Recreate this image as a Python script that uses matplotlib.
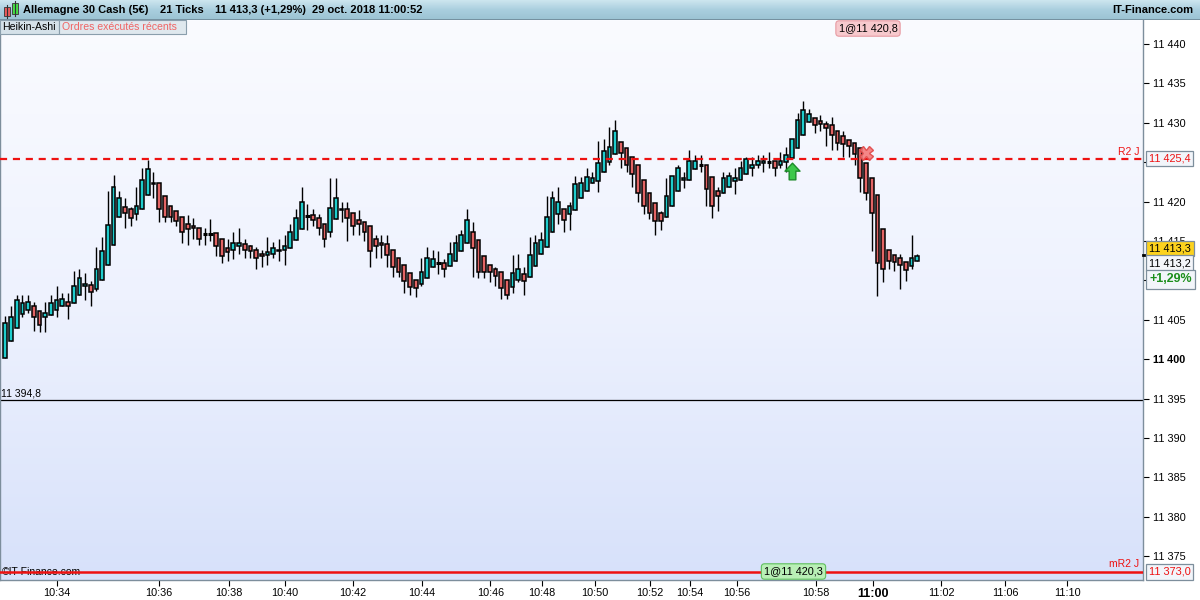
import matplotlib
matplotlib.use("Agg")
import matplotlib.pyplot as plt
import numpy as np
from matplotlib.patches import Rectangle
from matplotlib.path import Path
from matplotlib.colors import LinearSegmentedColormap

plt.rcParams['font.family'] = ['Liberation Sans', 'DejaVu Sans']

# ---------------- data (Heikin-Ashi candles, 21 ticks) ----------------
opens = [11400.1, 11402.3, 11403.9, 11405.7, 11406.3, 11406.7, 11406.1, 11405.3, 11405.6, 11406.3,
         11406.8, 11407.3, 11407.1, 11408.1, 11409.3, 11409.4, 11408.9, 11410.1, 11411.9, 11414.5,
         11418.1, 11419.3, 11419.0, 11418.4, 11419.0, 11420.8, 11422.4, 11422.3, 11420.7, 11419.4,
         11418.8, 11418.1, 11417.2, 11416.9, 11416.7, 11415.9, 11415.9, 11416.0, 11415.2, 11414.1,
         11413.8, 11414.3, 11414.6, 11414.3, 11413.9, 11413.4, 11413.2, 11413.4, 11413.7, 11413.8,
         11414.1, 11415.1, 11416.5, 11418.2, 11418.3, 11417.9, 11417.2, 11416.2, 11417.8, 11419.1,
         11419.0, 11418.5, 11417.6, 11417.4, 11416.9, 11415.2, 11414.7, 11414.6, 11413.9, 11412.8,
         11411.9, 11410.9, 11410.0, 11409.5, 11410.3, 11411.7, 11412.2, 11412.2, 11411.8, 11412.5,
         11413.7, 11414.8, 11416.2, 11415.1, 11413.1, 11412.0, 11411.5, 11411.0, 11410.0, 11409.1,
         11410.0, 11410.8, 11410.4, 11411.8, 11413.3, 11414.2, 11416.1, 11418.4, 11419.1, 11418.4,
         11418.9, 11420.5, 11421.4, 11422.3, 11422.6, 11423.7, 11425.0, 11426.0, 11427.5, 11426.8,
         11425.7, 11424.6, 11422.8, 11421.1, 11419.8, 11418.6, 11418.1, 11419.4, 11421.3, 11422.7,
         11422.8, 11424.1, 11424.6, 11424.6, 11423.1, 11421.3, 11421.1, 11421.9, 11422.6, 11422.8,
         11423.5, 11424.3, 11424.6, 11424.9, 11425.0, 11425.1, 11424.7, 11425.0, 11425.5, 11426.8,
         11428.5, 11430.1, 11430.6, 11430.2, 11429.9, 11429.7, 11429.0, 11428.3, 11427.8, 11427.4,
         11426.8, 11424.9, 11423.0, 11420.8, 11416.5, 11413.9, 11413.2, 11412.8, 11412.3, 11411.8,
         11412.4]
highs = [11405.5, 11406.7, 11408.1, 11408.1, 11408.1, 11407.2, 11406.1, 11407.2, 11408.1, 11409.3,
         11408.4, 11408.4, 11411.2, 11411.4, 11410.9, 11409.9, 11414.2, 11415.5, 11421.4, 11423.4,
         11421.4, 11420.4, 11419.3, 11421.9, 11424.3, 11425.3, 11423.8, 11422.3, 11420.7, 11419.4,
         11418.8, 11418.1, 11418.3, 11417.9, 11416.7, 11416.7, 11417.8, 11416.0, 11415.2, 11415.2,
         11416.2, 11416.7, 11415.2, 11414.5, 11414.2, 11413.9, 11415.5, 11414.9, 11415.2, 11415.7,
         11417.2, 11419.1, 11421.9, 11419.7, 11419.1, 11418.4, 11417.2, 11423.0, 11423.0, 11419.9,
         11419.9, 11418.5, 11418.9, 11417.4, 11416.9, 11415.8, 11415.8, 11415.7, 11413.9, 11412.8,
         11411.9, 11410.9, 11410.0, 11412.9, 11414.2, 11413.9, 11413.7, 11412.7, 11414.9, 11415.8,
         11416.4, 11419.1, 11417.4, 11415.1, 11413.1, 11412.0, 11411.7, 11411.0, 11410.0, 11413.2,
         11413.4, 11411.7, 11415.5, 11415.8, 11416.1, 11420.7, 11421.4, 11421.9, 11419.1, 11419.9,
         11423.2, 11423.1, 11424.2, 11423.8, 11427.7, 11428.0, 11429.4, 11430.4, 11427.5, 11426.8,
         11425.7, 11424.6, 11422.8, 11421.1, 11419.8, 11418.8, 11423.0, 11423.3, 11424.7, 11423.7,
         11426.6, 11425.9, 11425.9, 11424.6, 11423.1, 11421.9, 11423.8, 11423.8, 11424.2, 11425.2,
         11425.7, 11425.7, 11425.9, 11425.9, 11426.3, 11425.1, 11426.3, 11426.9, 11428.0, 11431.3,
         11432.7, 11431.7, 11430.6, 11431.0, 11430.2, 11430.7, 11429.0, 11428.9, 11427.8, 11427.4,
         11426.8, 11424.9, 11423.0, 11420.8, 11416.5, 11413.9, 11413.2, 11413.4, 11412.3, 11415.8,
         11413.4]
lows = [11400.1, 11402.3, 11403.9, 11405.4, 11405.9, 11403.6, 11403.4, 11403.4, 11405.6, 11405.4,
        11406.8, 11405.1, 11407.1, 11408.1, 11407.5, 11406.7, 11408.7, 11410.1, 11411.9, 11414.5,
        11418.1, 11416.7, 11416.9, 11417.6, 11419.0, 11420.8, 11420.4, 11417.4, 11417.4, 11417.4,
        11416.9, 11414.7, 11414.5, 11415.2, 11414.5, 11414.5, 11415.0, 11413.1, 11412.2, 11412.4,
        11412.7, 11413.4, 11412.9, 11412.9, 11411.4, 11411.7, 11411.9, 11412.9, 11412.4, 11411.9,
        11414.1, 11415.1, 11416.5, 11416.4, 11416.9, 11415.7, 11414.2, 11415.5, 11417.8, 11417.4,
        11415.0, 11415.7, 11415.8, 11415.0, 11411.7, 11412.9, 11412.9, 11411.7, 11410.4, 11410.4,
        11408.4, 11408.2, 11407.9, 11409.3, 11410.3, 11411.7, 11410.8, 11410.4, 11411.8, 11412.5,
        11413.7, 11414.8, 11410.4, 11410.3, 11410.3, 11409.8, 11409.3, 11407.7, 11407.7, 11408.4,
        11409.8, 11408.2, 11410.4, 11411.8, 11413.3, 11414.2, 11416.1, 11417.2, 11416.2, 11416.4,
        11418.9, 11420.5, 11421.4, 11422.3, 11421.2, 11423.7, 11424.7, 11426.0, 11424.2, 11423.7,
        11421.9, 11419.9, 11418.4, 11417.8, 11415.8, 11416.4, 11418.1, 11419.4, 11421.3, 11421.7,
        11422.8, 11424.1, 11423.8, 11419.4, 11417.9, 11418.8, 11421.1, 11421.9, 11420.9, 11422.8,
        11423.5, 11423.3, 11424.3, 11423.8, 11424.3, 11423.3, 11424.2, 11423.8, 11425.5, 11426.8,
        11428.5, 11430.1, 11428.7, 11428.9, 11427.1, 11426.6, 11426.6, 11425.7, 11425.7, 11424.7,
        11421.2, 11420.2, 11413.7, 11408.0, 11409.8, 11411.4, 11411.2, 11408.9, 11409.9, 11411.5,
        11412.4]
closes = [11404.6, 11405.4, 11407.5, 11407.1, 11407.2, 11405.4, 11404.4, 11405.8, 11407.1, 11407.5,
          11407.7, 11406.8, 11409.3, 11410.3, 11409.5, 11408.5, 11411.4, 11413.7, 11417.0, 11421.8,
          11420.4, 11418.6, 11417.9, 11419.5, 11422.7, 11424.1, 11422.2, 11419.0, 11418.1, 11418.1,
          11417.5, 11416.2, 11416.5, 11416.6, 11415.2, 11415.9, 11415.9, 11414.3, 11413.1, 11413.6,
          11414.8, 11414.7, 11413.9, 11413.7, 11412.9, 11413.1, 11413.6, 11414.1, 11413.9, 11414.3,
          11416.1, 11417.9, 11420.0, 11418.2, 11417.6, 11416.7, 11415.2, 11419.2, 11420.5, 11418.9,
          11417.9, 11416.9, 11417.1, 11416.2, 11413.7, 11414.3, 11414.5, 11413.2, 11411.7, 11411.0,
          11409.9, 11409.1, 11409.0, 11411.0, 11412.9, 11412.7, 11412.2, 11411.4, 11413.4, 11414.7,
          11415.8, 11417.6, 11414.1, 11411.0, 11411.0, 11411.0, 11410.6, 11409.0, 11408.2, 11410.9,
          11411.5, 11409.9, 11413.2, 11414.7, 11415.1, 11418.1, 11420.5, 11419.9, 11417.6, 11419.4,
          11422.2, 11422.4, 11423.1, 11423.0, 11424.9, 11426.4, 11426.9, 11428.9, 11426.1, 11424.6,
          11423.5, 11421.1, 11419.4, 11418.6, 11417.5, 11417.5, 11420.7, 11423.3, 11424.2, 11423.0,
          11425.2, 11425.1, 11424.6, 11421.6, 11419.4, 11420.7, 11423.0, 11423.2, 11423.0, 11424.2,
          11425.4, 11424.7, 11425.1, 11425.1, 11425.0, 11424.2, 11425.2, 11425.9, 11428.0, 11430.4,
          11431.6, 11431.1, 11429.7, 11429.8, 11429.3, 11428.5, 11427.4, 11427.3, 11427.1, 11426.0,
          11423.0, 11421.1, 11418.6, 11412.2, 11411.4, 11412.4, 11412.3, 11411.9, 11411.3, 11412.9,
          11413.1]

time_labels = ["10:34", "10:36", "10:38", "10:40", "10:42", "10:44", "10:46", "10:48", "10:50",
               "10:52", "10:54", "10:56", "10:58", "11:00", "11:02", "11:06", "11:10"]
time_label_pos = [9.1, 26.96, 39.16, 49.07, 61.0, 73.1, 85.1, 94.2, 103.5,
                  113.1, 120.1, 128.4, 142.2, 152.2, 164.2, 175.4, 186.3]
price_ticks = [11375, 11380, 11385, 11390, 11395, 11400, 11405, 11410, 11415,
               11420, 11425, 11430, 11435, 11440]
hidden_price_labels = [11410, 11425]   # covered by the value boxes in the original

r2_level = 11425.4
mr2_level = 11373.0
session_level = 11394.8
last_price = 11413.3
prev_price = 11413.2
change_text = "+1,29%"
buy_text = "1@11 420,3"
sell_text = "1@11 420,8"
buy_signal = (138, 11423.9)
sell_signal = (151, 11426.2)

# ---------------- layout helpers ----------------
W, H = 1200, 600
fig = plt.figure(figsize=(12, 6), dpi=100)
fig.patch.set_facecolor('white')

def fx(px):
    return px / W

def fy(py):
    return 1 - py / H

PLOT_L, PLOT_R, PLOT_T, PLOT_B = 0, 1143, 20, 580
ax = fig.add_axes([fx(PLOT_L), fy(PLOT_B), fx(PLOT_R - PLOT_L), (PLOT_B - PLOT_T) / H])
xlim = (-0.93, 199.6)
ylim = (11371.98, 11443.04)
ax.set_xlim(*xlim)
ax.set_ylim(*ylim)

# background gradient
bg = LinearSegmentedColormap.from_list('bg', ['#fafbff', '#eef2fe', '#d7e1fa'])
ax.imshow(np.linspace(0, 1, 256)[:, None], cmap=bg, aspect='auto',
          extent=[xlim[0], xlim[1], ylim[0], ylim[1]], zorder=0)

# candles
body_w = 0.66
up_col = '#1fcccc'
dn_col = '#e26464'
for i, (o, h, l, c) in enumerate(zip(opens, highs, lows, closes)):
    ax.vlines(i, l, h, color='black', lw=1.0, zorder=3)
    if abs(c - o) < 0.05:
        ax.hlines(o, i - body_w / 2 - 0.05, i + body_w / 2 + 0.05, color='black', lw=2.2, zorder=4)
    else:
        col = up_col if c > o else dn_col
        ax.add_patch(Rectangle((i - body_w / 2, min(o, c)), body_w, abs(c - o),
                               facecolor=col, edgecolor='black', lw=1.1, zorder=4))

# levels
ax.axhline(r2_level, color='#ee1111', lw=1.6, ls=(0, (3.2, 2.6)), zorder=5)
ax.axhline(mr2_level, color='#ee1111', lw=1.8, zorder=6)
ax.axhline(session_level, color='black', lw=0.9, zorder=2)

ax.text(-0.75, session_level + 0.25, "11 394,8", fontsize=7.5, color='black', va='bottom',
        ha='left', zorder=7)
ax.text(198.9, r2_level + 0.3, "R2 J", fontsize=7.5, color='#ee1111', ha='right', va='bottom', zorder=7)
ax.text(198.9, mr2_level + 0.35, "mR2 J", fontsize=7.5, color='#ee1111', ha='right', va='bottom', zorder=7)
ax.text(-0.6, mr2_level, "©IT-Finance.com", fontsize=7.5, color='black', ha='left', va='center', zorder=5)

# trade markers
up_arrow = Path([(-0.2, -0.5), (0.2, -0.5), (0.2, 0.02), (0.45, 0.02), (0.0, 0.5),
                 (-0.45, 0.02), (-0.2, 0.02), (-0.2, -0.5)],
                [Path.MOVETO] + [Path.LINETO] * 6 + [Path.CLOSEPOLY])
ax.plot([buy_signal[0]], [buy_signal[1]], marker=up_arrow, markersize=12,
        mfc='#3cc84a', mec='#1d8b2a', mew=1.0, zorder=8)
ax.plot([sell_signal[0]], [sell_signal[1]], marker='X', markersize=10,
        mfc='#f47a7a', mec='#e04848', mew=1.0, alpha=0.9, zorder=8)

# axes styling
ax.spines['top'].set_visible(False)
for s in ['left', 'right', 'bottom']:
    ax.spines[s].set_color('#7d8e9c')
    ax.spines[s].set_linewidth(1.0)
ax.yaxis.tick_right()
ax.set_yticks(price_ticks)
ax.set_yticklabels(["" if v in hidden_price_labels else f"{v // 1000} {v % 1000:03d}"
                    for v in price_ticks])
ax.tick_params(axis='y', direction='out', length=4, width=0.8, colors='black',
               labelsize=7.8, pad=3)
ax.set_xticks(time_label_pos)
ax.set_xticklabels(time_labels)
ax.tick_params(axis='x', direction='out', length=4, width=0.8, colors='black',
               labelsize=7.8, pad=2)
for lbl in ax.get_yticklabels():
    if lbl.get_text() == "11 400":
        lbl.set_fontweight('bold')
for lbl in ax.get_xticklabels():
    if lbl.get_text() == "11:00":
        lbl.set_fontweight('bold')
        lbl.set_fontsize(9)

# ---------------- header ----------------
axh = fig.add_axes([0, fy(20), 1, 20 / H])
hdr = LinearSegmentedColormap.from_list('hdr', ['#cde6ef', '#a9cede', '#9bc3d3'])
axh.imshow(np.linspace(0, 1, 64)[:, None], cmap=hdr, aspect='auto', extent=[0, 1, 0, 1])
axh.axhline(0.02, color='#6e8896', lw=1.2)
axh.set_xlim(0, 1)
axh.set_ylim(0, 1)
axh.axis('off')

# little candle icon
fig.patches.append(Rectangle((fx(4), fy(16)), fx(6), 9 / H, transform=fig.transFigure,
                             fc='#e85a5a', ec='#444', lw=0.7))
fig.lines.append(plt.Line2D([fx(7), fx(7)], [fy(18), fy(5)], transform=fig.transFigure,
                            color='#333', lw=0.8))
fig.patches.append(Rectangle((fx(12), fy(14)), fx(6), 11 / H, transform=fig.transFigure,
                             fc='#44dd44', ec='#444', lw=0.7))
fig.lines.append(plt.Line2D([fx(15), fx(15)], [fy(16), fy(1)], transform=fig.transFigure,
                            color='#333', lw=0.8))

hy = fy(10)
fig.text(fx(23), hy, "Allemagne 30 Cash (5€)", fontsize=8, fontweight='bold', va='center')
fig.text(fx(160), hy, "21 Ticks", fontsize=8, fontweight='bold', va='center')
fig.text(fx(215), hy, "11 413,3 (+1,29%)", fontsize=8, fontweight='bold', va='center')
fig.text(fx(312), hy, "29 oct. 2018 11:00:52", fontsize=8, fontweight='bold', va='center')
fig.text(fx(1193), hy, "IT-Finance.com", fontsize=8, fontweight='bold', va='center', ha='right')

# second row labels
fig.patches.append(Rectangle((fx(0), fy(34)), fx(59), 14 / H, transform=fig.transFigure,
                             fc='#d5e1e9', ec='#8a9eac', lw=0.8, zorder=5))
fig.patches.append(Rectangle((fx(59), fy(34)), fx(127), 14 / H, transform=fig.transFigure,
                             fc='#dfe8ee', ec='#8a9eac', lw=0.8, zorder=5))
fig.text(fx(2), fy(27), "Heikin-Ashi", fontsize=7.6, va='center', zorder=6)
fig.text(fx(62), fy(27), "Ordres exécutés récents", fontsize=7.6, color='#f06464',
         va='center', zorder=6)

# order labels
fig.text(fx(868), fy(28.5), sell_text, fontsize=7.8, ha='center', va='center', zorder=6,
         bbox=dict(boxstyle='round,pad=0.25,rounding_size=0.3', fc='#f7c9cd', ec='#e79aa2', lw=0.8))
fig.text(fx(793.5), fy(571.5), buy_text, fontsize=7.8, ha='center', va='center', zorder=1,
         bbox=dict(boxstyle='round,pad=0.25,rounding_size=0.3', fc='#b9efb6', ec='#5fbf5c', lw=0.8))

# right axis value boxes
def value_box(py, txt, tcol='black', fc='#f2f5fa', bold=False, size=7.8):
    fig.text(fx(1149), fy(py), txt, fontsize=size, color=tcol, ha='left', va='center',
             fontweight='bold' if bold else 'normal', zorder=7,
             bbox=dict(boxstyle='square,pad=0.25', fc=fc, ec='#7d8e9c', lw=0.9))

value_box(158.5, "11 425,4", tcol='#ee1111')
value_box(248.5, "11 413,3", fc='#fcd21e')
value_box(263, "11 413,2", fc='#f4f6fa')
value_box(279.5, change_text, tcol='#1c8f1c', bold=True, size=9)
value_box(572, "11 373,0", tcol='#ee1111')

# current price marker
fig.lines.append(plt.Line2D([fx(1143), fx(1148)], [fy(254.5), fy(254.5)],
                            transform=fig.transFigure, color='black', lw=2.0))

fig.savefig("out.png", dpi=100)
